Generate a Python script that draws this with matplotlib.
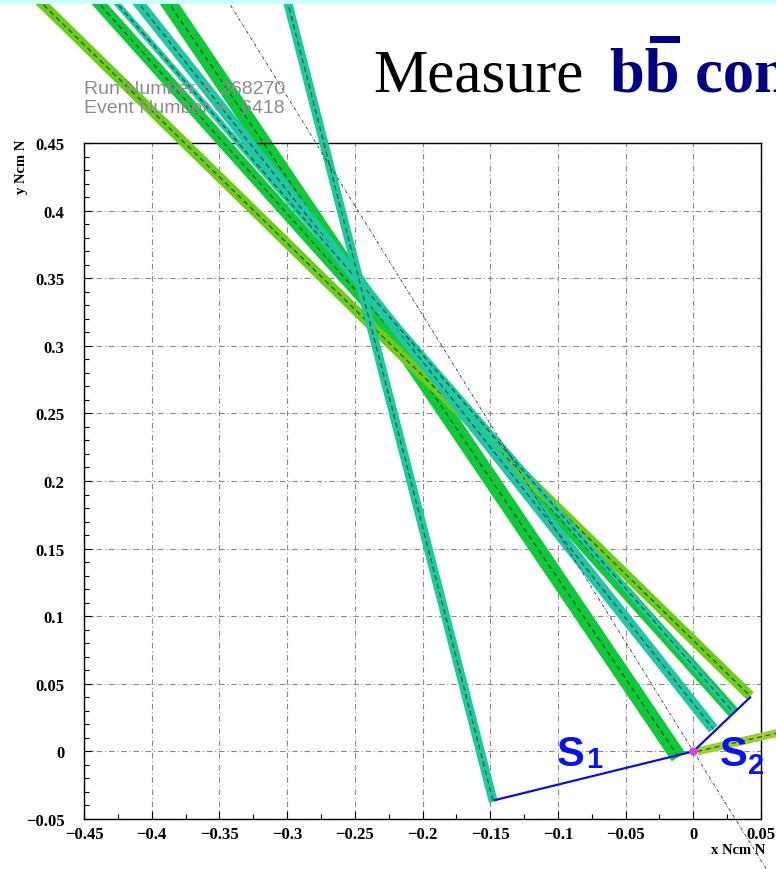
import matplotlib
matplotlib.use("Agg")
import matplotlib.pyplot as plt
from matplotlib.patches import Rectangle
from matplotlib.ticker import MultipleLocator, FuncFormatter

W, H = 776, 870

# fitted tracks (x, y in cm): start above the frame, end near the vertices
track_x0 = [-0.488, -0.445, -0.4315, -0.4147, -0.3917, -0.3011]
track_y0 = [0.56, 0.56, 0.56, 0.56, 0.56, 0.56]
track_x1 = [0.042, 0.0295, 0.0295, 0.0148, -0.011, -0.1477]
track_y1 = [0.041, 0.029, 0.029, 0.0166, -0.004, -0.0373]

# short track leaving the primary vertex
short_x = [0.003, 0.08]
short_y = [0.0, 0.0177]

# primary vertex and the two secondary vertices
pv = (0.0, 0.0)
sv1 = (-0.1465, -0.0360)
sv2 = (0.042, 0.040)

# beam direction reference line
ref_x = [-0.3468, 0.0558]
ref_y = [0.56, -0.09]

run_number = 268270
event_number = 6418

x_ticks = [-0.45, -0.4, -0.35, -0.3, -0.25, -0.2, -0.15, -0.1, -0.05, 0, 0.05]
y_ticks = [-0.05, 0, 0.05, 0.1, 0.15, 0.2, 0.25, 0.3, 0.35, 0.4, 0.45]

track_colors = ['#6ccc18', '#14c83c', '#20c8a0', '#22c6a4', '#10c838', '#1ec99a']
track_px = [10, 12, 6, 11, 16, 9]
track_order = [4, 3, 6, 5, 2, 7]


def fpos(x, y):
    # pixel position -> figure fraction
    return x / W, 1 - y / H


def fmt(v, pos):
    if abs(v) < 1e-9:
        return '0'
    return ('%g' % round(v, 3)).replace('-', '\u2212')


fig = plt.figure(figsize=(W / 100, H / 100), dpi=100)
fig.patch.set_facecolor('white')
ax = fig.add_axes([84 / W, 1 - 820 / H, 677 / W, 676 / H])
ax.set_xlim(-0.45, 0.05)
ax.set_ylim(-0.05, 0.45)

ax.set_xticks(x_ticks)
ax.set_yticks(y_ticks)
ax.xaxis.set_minor_locator(MultipleLocator(0.025))
ax.yaxis.set_minor_locator(MultipleLocator(0.01))
ax.xaxis.set_major_formatter(FuncFormatter(fmt))
ax.yaxis.set_major_formatter(FuncFormatter(fmt))
ax.tick_params(which='both', direction='in', top=False, right=False,
               width=0.8, colors='black')
ax.tick_params(which='major', length=6)
ax.tick_params(which='minor', length=3.5)
ax.tick_params(axis='x', pad=5)
ax.tick_params(axis='y', pad=14)
for lab in ax.get_xticklabels() + ax.get_yticklabels():
    lab.set_family('Liberation Serif')
    lab.set_weight('bold')
    lab.set_size(12)
for sp in ax.spines.values():
    sp.set_linewidth(1.0)

ax.set_axisbelow(True)
ax.grid(True, which='major', color='#8a8a8a', lw=0.8,
        linestyle=(0, (5, 2.5, 1, 2.5)))

# reference line through the primary vertex
ax.plot(ref_x, ref_y, color='#333333', lw=0.6,
        linestyle=(0, (4, 2, 1, 2)), clip_on=False, zorder=8)

# track bands with dashed centre lines
for i in range(len(track_x0)):
    xs = [track_x0[i], track_x1[i]]
    ys = [track_y0[i], track_y1[i]]
    ax.plot(xs, ys, color=track_colors[i], lw=track_px[i] * 0.72,
            solid_capstyle='butt', clip_on=False, zorder=track_order[i])
    ax.plot(xs, ys, color='#1f4f44', lw=0.9, dashes=(4, 3),
            clip_on=False, zorder=track_order[i] + 0.5)

ax.plot(short_x, short_y, color='#9ccc3a', lw=8 * 0.72,
        solid_capstyle='butt', clip_on=False, zorder=7)
ax.plot(short_x, short_y, color='#3c5a1c', lw=0.9, dashes=(4, 3),
        clip_on=False, zorder=7.5)

# vertex displacement vectors
ax.plot([sv1[0], pv[0]], [sv1[1], pv[1]], color='#1010d0', lw=1.6,
        clip_on=False, zorder=9)
ax.plot([pv[0], sv2[0]], [pv[1], sv2[1]], color='#1010d0', lw=1.6,
        clip_on=False, zorder=9)
ax.plot(pv[0], pv[1], 'o', color='#e040e0', markersize=6, mec='none', zorder=10)

# vertex labels
blue = '#0a14e6'
fig.text(*fpos(557, 766), 'S', color=blue, family='Liberation Sans',
         weight='bold', size=30, va='baseline')
fig.text(*fpos(586, 768), '1', color=blue, family='Liberation Sans',
         weight='bold', size=21, va='baseline')
fig.text(*fpos(720, 766), 'S', color=blue, family='Liberation Sans',
         weight='bold', size=30, va='baseline')
fig.text(*fpos(748, 774), '2', color=blue, family='Liberation Sans',
         weight='bold', size=21, va='baseline')

# axis titles
fig.text(*fpos(22, 140), 'y Ncm N', rotation=90, ha='center', va='top',
         family='Liberation Serif', weight='bold', size=10.5)
fig.text(*fpos(738, 851), 'x Ncm N', ha='center', va='center',
         family='Liberation Serif', weight='bold', size=10.5)

# run / event info
gray = '#8c8c8c'
fig.text(*fpos(84, 94), 'Run Number =', color=gray, family='Liberation Sans',
         size=14, va='baseline')
fig.text(*fpos(285, 94), str(run_number), color=gray, family='Liberation Sans',
         size=14, va='baseline', ha='right')
fig.text(*fpos(84, 113), 'Event Number =', color=gray, family='Liberation Sans',
         size=14, va='baseline')
fig.text(*fpos(285, 113), str(event_number), color=gray, family='Liberation Sans',
         size=14, va='baseline', ha='right')

# slide heading, running off the right edge of the slide
fig.text(*fpos(373, 91), 'Measure', family='Liberation Serif', size=44,
         va='baseline', color='black')
fig.text(*fpos(610, 91), 'bb content', family='Liberation Serif', size=45,
         weight='bold', va='baseline', color='#000080')
fig.add_artist(Rectangle(fpos(650, 44), 30 / W, 7 / H,
                         transform=fig.transFigure, color='#000080', lw=0))

# top banner strip
fig.add_artist(Rectangle((0, 1 - 5 / H), 1, 5 / H, transform=fig.transFigure,
                         color='#ccffff', lw=0, zorder=20))

fig.savefig('out.png', dpi=100)
